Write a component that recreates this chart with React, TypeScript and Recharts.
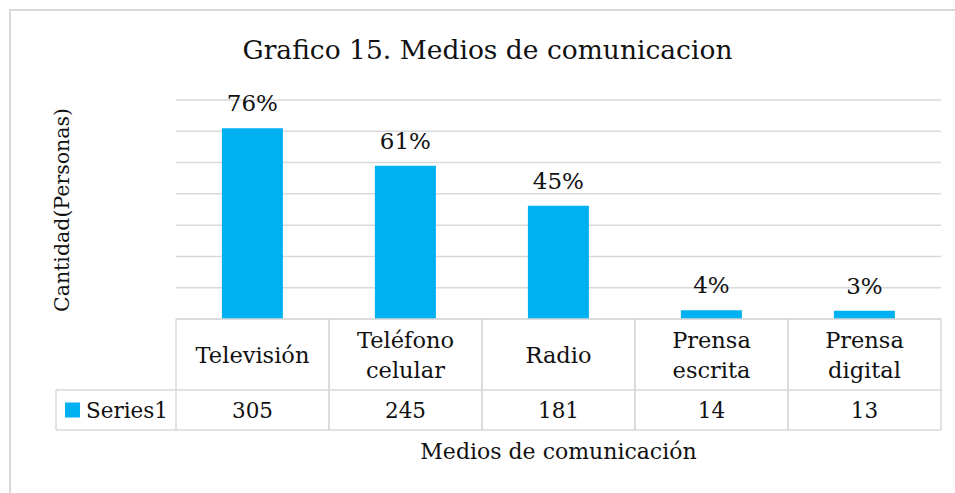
import React from 'react';
import { BarChart, Bar, XAxis, YAxis, CartesianGrid, LabelList } from 'recharts';

const categories = ['Televisión', 'Teléfono celular', 'Radio', 'Prensa escrita', 'Prensa digital'];
const categoryLines = [['Televisión'], ['Teléfono', 'celular'], ['Radio'], ['Prensa', 'escrita'], ['Prensa', 'digital']];
const series1 = [305, 245, 181, 14, 13];
const percentLabels = ['76%', '61%', '45%', '4%', '3%'];
const yTicks = [0, 50, 100, 150, 200, 250, 300, 350];
const seriesName = 'Series1';

const W = 955;
const H = 493;
const M = { top: 100, right: 14, bottom: 63, left: 176 };
const PLOT_W = W - M.left - M.right;
const CELL_W = PLOT_W / categories.length;
const ROW1 = 71;
const ROW2 = 40;
const LEGEND_LEFT = 56;
const FONT = '"DejaVu Serif", serif';
const GRID = '#d9d9d9';
const BLUE = '#00b0f0';
const TXT = '#111';

const data = categories.map((c, i) => ({ name: c, value: series1[i], pct: percentLabels[i], idx: i }));

const TableTick = (props: any) => {
  const { x, y, index } = props;
  const left = x - CELL_W / 2;
  const right = x + CELL_W / 2;
  const lines = categoryLines[index];
  const midRow1 = y + ROW1 / 2;
  const lh = 30;
  return (
    <g>
      <line x1={left} x2={right} y1={y} y2={y} stroke={GRID} strokeWidth={1.5} />
      <line x1={left} x2={right} y1={y + ROW1} y2={y + ROW1} stroke={GRID} strokeWidth={1.5} />
      <line x1={left} x2={right} y1={y + ROW1 + ROW2} y2={y + ROW1 + ROW2} stroke={GRID} strokeWidth={1.5} />
      <line x1={left} x2={left} y1={y} y2={y + ROW1 + ROW2} stroke={GRID} strokeWidth={1.5} />
      <line x1={right} x2={right} y1={y} y2={y + ROW1 + ROW2} stroke={GRID} strokeWidth={1.5} />
      {lines.map((t: string, k: number) => (
        <text
          key={k}
          x={x}
          y={midRow1 + (k - (lines.length - 1) / 2) * lh}
          textAnchor="middle"
          dominantBaseline="central"
          fontFamily={FONT}
          fontSize={22.5}
          fill={TXT}
        >
          {t}
        </text>
      ))}
      <text x={x} y={y + ROW1 + ROW2 / 2} textAnchor="middle" dominantBaseline="central" fontFamily={FONT} fontSize={21.5} fill={TXT}>
        {series1[index]}
      </text>
      {index === 0 && (
        <g>
          <line x1={LEGEND_LEFT} x2={left} y1={y + ROW1} y2={y + ROW1} stroke={GRID} strokeWidth={1.5} />
          <line x1={LEGEND_LEFT} x2={left} y1={y + ROW1 + ROW2} y2={y + ROW1 + ROW2} stroke={GRID} strokeWidth={1.5} />
          <line x1={LEGEND_LEFT} x2={LEGEND_LEFT} y1={y + ROW1} y2={y + ROW1 + ROW2} stroke={GRID} strokeWidth={1.5} />
          <rect x={LEGEND_LEFT + 9} y={y + ROW1 + ROW2 / 2 - 7.5} width={15} height={15} fill={BLUE} />
          <text x={LEGEND_LEFT + 30} y={y + ROW1 + ROW2 / 2} dominantBaseline="central" fontFamily={FONT} fontSize={21.5} fill={TXT}>
            {seriesName}
          </text>
        </g>
      )}
    </g>
  );
};

const PctLabel = (props: any) => {
  const { x, y, width, index } = props;
  return (
    <text x={x + width / 2} y={y - 25} textAnchor="middle" dominantBaseline="central" fontFamily={FONT} fontSize={23} fill={TXT}>
      {percentLabels[index]}
    </text>
  );
};

export default function App() {
  return (
    <div style={{ position: 'absolute', left: 0, top: 0, width: W, height: H, overflow: 'hidden', background: '#fff' }}>
      <div style={{ position: 'absolute', left: 9, top: 9, width: 2000, height: 2000, border: `2px solid ${GRID}` }} />
      <div
        style={{
          position: 'absolute',
          left: 0,
          width: W,
          top: 30,
          textAlign: 'center',
          fontFamily: FONT,
          fontSize: 26.5,
          color: TXT,
          lineHeight: '40px',
          paddingLeft: 10,
        }}
      >
        Grafico 15. Medios de comunicacion
      </div>
      <div
        style={{
          position: 'absolute',
          left: 62,
          top: 210,
          transform: 'translate(-50%, -50%) rotate(-90deg)',
          whiteSpace: 'nowrap',
          fontFamily: FONT,
          fontSize: 20.5,
          color: TXT,
        }}
      >
        Cantidad(Personas)
      </div>
      <div
        style={{
          position: 'absolute',
          left: M.left,
          width: PLOT_W,
          top: 437,
          textAlign: 'center',
          fontFamily: FONT,
          fontSize: 22,
          color: TXT,
          lineHeight: '30px',
        }}
      >
        Medios de comunicación
      </div>
      <div style={{ position: 'absolute', left: 0, top: 0 }}>
        <BarChart width={W} height={H} data={data} margin={M} barCategoryGap="30%">
          <CartesianGrid horizontal vertical={false} stroke={GRID} strokeWidth={1.5} />
          <XAxis
            dataKey="name"
            height={ROW1 + ROW2}
            interval={0}
            tick={<TableTick />}
            tickLine={false}
            axisLine={false}
            tickSize={0}
            tickMargin={0}
          />
          <YAxis hide domain={[0, 350]} ticks={yTicks} type="number" />
          <Bar dataKey="value" fill={BLUE} isAnimationActive={false}>
            <LabelList dataKey="pct" content={<PctLabel />} />
          </Bar>
        </BarChart>
      </div>
    </div>
  );
}
